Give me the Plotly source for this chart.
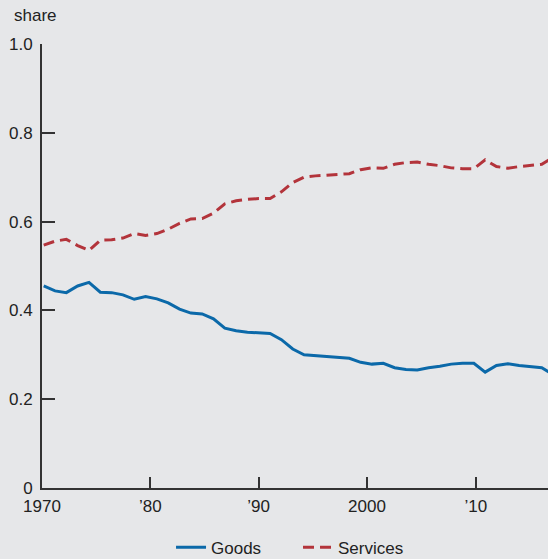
import plotly.graph_objects as go

years = list(range(1970, 2016))
goods = [0.455, 0.444, 0.440, 0.455, 0.463, 0.441, 0.440, 0.435, 0.425, 0.431,
         0.426, 0.417, 0.403, 0.394, 0.392, 0.381, 0.360, 0.354, 0.351, 0.349,
         0.348, 0.334, 0.313, 0.300, 0.298, 0.295, 0.294, 0.292, 0.283, 0.279,
         0.281, 0.271, 0.267, 0.266, 0.271, 0.274, 0.279, 0.281, 0.281, 0.261,
         0.276, 0.280, 0.276, 0.274, 0.271, 0.255]
services = [0.547, 0.556, 0.560, 0.546, 0.535, 0.558, 0.559, 0.563, 0.573, 0.569,
            0.573, 0.583, 0.596, 0.606, 0.607, 0.619, 0.640, 0.647, 0.650, 0.652,
            0.652, 0.667, 0.688, 0.700, 0.703, 0.705, 0.706, 0.708, 0.717, 0.721,
            0.720, 0.729, 0.733, 0.734, 0.729, 0.726, 0.721, 0.719, 0.719, 0.739,
            0.724, 0.720, 0.724, 0.726, 0.729, 0.745]
x_tick_labels = ["1970", "\u201980", "\u201990", "2000", "\u201910"]
y_tick_vals = [0, 0.2, 0.4, 0.6, 0.8, 1.0]
y_tick_labels = ["0", "0.2", "0.4", "0.6", "0.8", "1.0"]

BG = "#e6e7e9"
AX = "#333333"
TXT = "#222222"
FONT = "Liberation Sans, Arial, sans-serif"
FS = 17

fig = go.Figure()
fig.add_trace(go.Scatter(x=years, y=goods, mode="lines", name="Goods",
                         line=dict(color="#0b69a9", width=3)))
fig.add_trace(go.Scatter(x=years, y=services, mode="lines", name="Services",
                         line=dict(color="#b3343b", width=3, dash="11px,6px")))

# tick positions as drawn in the reference picture
x_tick_pos = [1969.85, 1979.43, 1988.98, 1998.56, 2008.17]

fig.update_layout(
    width=548, height=559,
    paper_bgcolor=BG, plot_bgcolor=BG,
    margin=dict(l=42, r=0, t=44, b=71, autoexpand=False),
    font=dict(family=FONT, size=FS, color=TXT),
    showlegend=True,
    legend=dict(orientation="h", x=0.255, xanchor="left",
                yref="container", y=0.02, yanchor="middle",
                font=dict(size=FS, family=FONT, color=TXT),
                bgcolor="rgba(0,0,0,0)", itemwidth=30, entrywidth=82),
    xaxis=dict(range=[1969.85, 2014.55], showgrid=False, zeroline=False,
               showline=True, linecolor=AX, linewidth=2, automargin=False,
               tickmode="array", tickvals=x_tick_pos, ticktext=x_tick_labels,
               ticks="inside", ticklen=11, tickwidth=2, tickcolor=AX,
               ticklabelstandoff=2,
               tickfont=dict(size=FS, family=FONT, color=TXT), fixedrange=True),
    yaxis=dict(range=[0, 1.0], showgrid=False, zeroline=False,
               showline=True, linecolor=AX, linewidth=2, automargin=False,
               tickmode="array", tickvals=y_tick_vals, ticktext=y_tick_labels,
               ticks="inside", ticklen=13, tickwidth=2, tickcolor=AX,
               ticklabelstandoff=4,
               tickfont=dict(size=FS, family=FONT, color=TXT), fixedrange=True),
    annotations=[dict(text="share", xref="paper", yref="paper", x=-0.06, y=1.065,
                      xanchor="left", yanchor="middle", showarrow=False,
                      font=dict(size=FS, family=FONT, color=TXT))],
)

fig.write_html("out.html", config={"displayModeBar": False},
               post_script="document.body.style.margin='0';document.body.style.overflow='hidden';")
